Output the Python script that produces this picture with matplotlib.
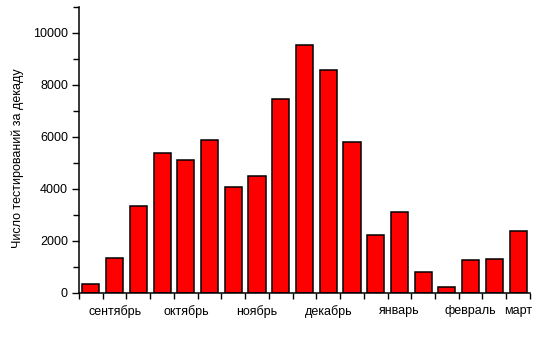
import matplotlib.pyplot as plt
import numpy as np

plt.rcParams['font.family'] = ['Liberation Sans', 'DejaVu Sans']

# число тестирований по декадам (сентябрь - март)
values = [350, 1330, 3330, 5380, 5100, 5870, 4080, 4500, 7480,
          9540, 8580, 5820, 2240, 3100, 790, 240, 1250, 1290, 2400]
months = ['сентябрь', 'октябрь', 'ноябрь', 'декабрь', 'январь', 'февраль', 'март']
month_pos = [1, 4, 7, 10, 13, 16, 18]
ylabel = 'Число тестирований за декаду'

fig = plt.figure(figsize=(5.43, 3.41), dpi=100)
ax = fig.add_axes([0.1455, 0.1408, 0.8305, 0.8387])

x = np.arange(len(values))
ax.bar(x, values, width=0.72, color='#ff0000', edgecolor='black', linewidth=1.1)

ax.set_xlim(-0.5, len(values) - 0.5)
ax.set_ylim(0, 11000)

ax.spines['top'].set_visible(False)
ax.spines['right'].set_visible(False)
ax.spines['left'].set_linewidth(1.1)
ax.spines['bottom'].set_linewidth(1.1)

ax.set_yticks(np.arange(0, 10001, 2000))
ax.set_yticks(np.arange(1000, 11001, 2000), minor=True)
ax.tick_params(axis='y', which='major', direction='out', length=5, width=1, labelsize=9, pad=3)
ax.tick_params(axis='y', which='minor', direction='out', length=4, width=1)

# деления на границах декад, подписи месяцев по центру
ax.set_xticks(np.arange(-0.5, len(values), 1.0))
ax.set_xticklabels([])
ax.set_xticks(month_pos, minor=True)
ax.set_xticklabels(months, minor=True)
ax.tick_params(axis='x', which='major', direction='out', length=4, width=1)
ax.tick_params(axis='x', which='minor', length=0, labelsize=9, pad=9)

ax.set_ylabel(ylabel, fontsize=9)
ax.yaxis.set_label_coords(-0.122, 0.47)

fig.savefig('out.png', dpi=100)
